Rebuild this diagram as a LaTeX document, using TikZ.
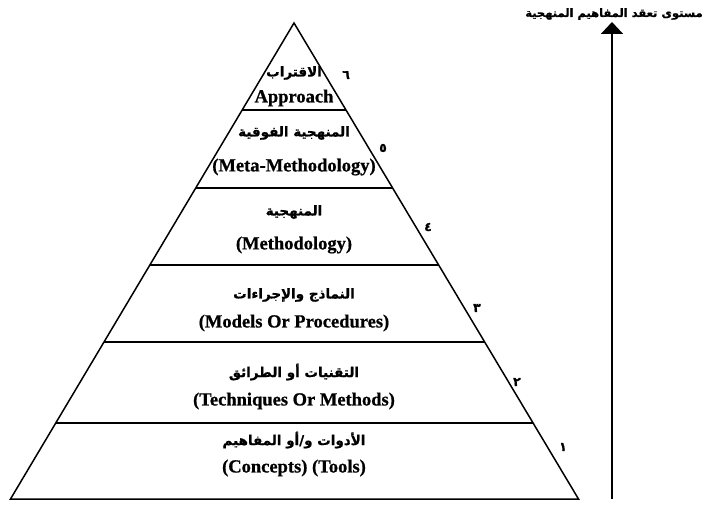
\documentclass[tikz,border=0pt]{standalone}
\usepackage{fontspec}
\setmainfont{Liberation Serif}[BoldFont={Liberation Serif Bold}]
\newfontfamily\arabicfont[Script=Arabic,FakeBold=0.8]{DejaVu Sans Bold}
\newfontfamily\latinbold[FakeBold=0.8]{Liberation Serif Bold}
\TeXXeTstate=1
\usetikzlibrary{arrows.meta,calc}
\begin{document}
\begin{tikzpicture}[x=1bp,y=-1bp,
  edge/.style={line width=1.5bp,line join=miter},
  entxt/.style={font=\fontsize{18.5bp}{22bp}\latinbold,inner sep=0pt},
  artxt/.style={font=\fontsize{13.5bp}{16bp}\arabicfont,inner sep=0pt},
  titletxt/.style={font=\fontsize{11.5bp}{14bp}\arabicfont,inner sep=0pt},
  numtxt/.style={font=\fontsize{12.5bp}{14bp}\arabicfont,inner sep=0pt},
  arrowline/.style={line width=2bp,-{Triangle[length=12bp,width=22bp]}}]
\useasboundingbox (0,0) rectangle (708,506);
% pyramid
\coordinate (A) at (294,23);
\coordinate (BL) at (10.5,499);
\coordinate (BR) at (578.5,499);
\draw[edge] (BL) -- (A) -- (BR) -- cycle;
\foreach \t [count=\i] in {0.1828,0.3466,0.5084,0.6702,0.8403}{
  \coordinate (L\i) at ($(A)!\t!(BL)$);
  \coordinate (R\i) at ($(A)!\t!(BR)$);
  \draw[edge] (L\i) -- (R\i);
}
% level 6
\node[artxt] (ar6) at (294,73) {\beginR الاقتراب\endR};
\node[entxt] (en6) at (294,98) {Approach};
% level 5
\node[artxt] (ar5) at (294,133) {\beginR المنهجية الفوقية\endR};
\node[entxt] (en5) at (294,167) {(Meta-Methodology)};
% level 4
\node[artxt] (ar4) at (294,212) {\beginR المنهجية\endR};
\node[entxt] (en4) at (294,245) {(Methodology)};
% level 3
\node[artxt] (ar3) at (294,295) {\beginR النماذج والإجراءات\endR};
\node[entxt] (en3) at (294,323) {(Models Or Procedures)};
% level 2
\node[artxt] (ar2) at (294,372) {\beginR التقنيات أو الطرائق\endR};
\node[entxt] (en2) at (294,401) {(Techniques Or Methods)};
% level 1
\node[artxt] (ar1) at (294,440) {\beginR الأدوات و/أو المفاهيم\endR};
\node[entxt] (en1) at (294,468) {(Concepts) (Tools)};
% numbers
\node[numtxt] (n6) at (346,75) {٦};
\node[numtxt] (n5) at (383,148) {٥};
\node[numtxt] (n4) at (428,227) {٤};
\node[numtxt] (n3) at (477,308) {٣};
\node[numtxt] (n2) at (517,382) {٢};
\node[numtxt] (n1) at (563,447) {١};
% arrow and title
\node[titletxt] (title) at (614,14) {\beginR مستوى تعقد المفاهيم المنهجية\endR};
\coordinate (arrowbase) at (612,499);
\coordinate (arrowtip) at (612,22);
\draw[arrowline] (arrowbase) -- (arrowtip);
\end{tikzpicture}
\end{document}
